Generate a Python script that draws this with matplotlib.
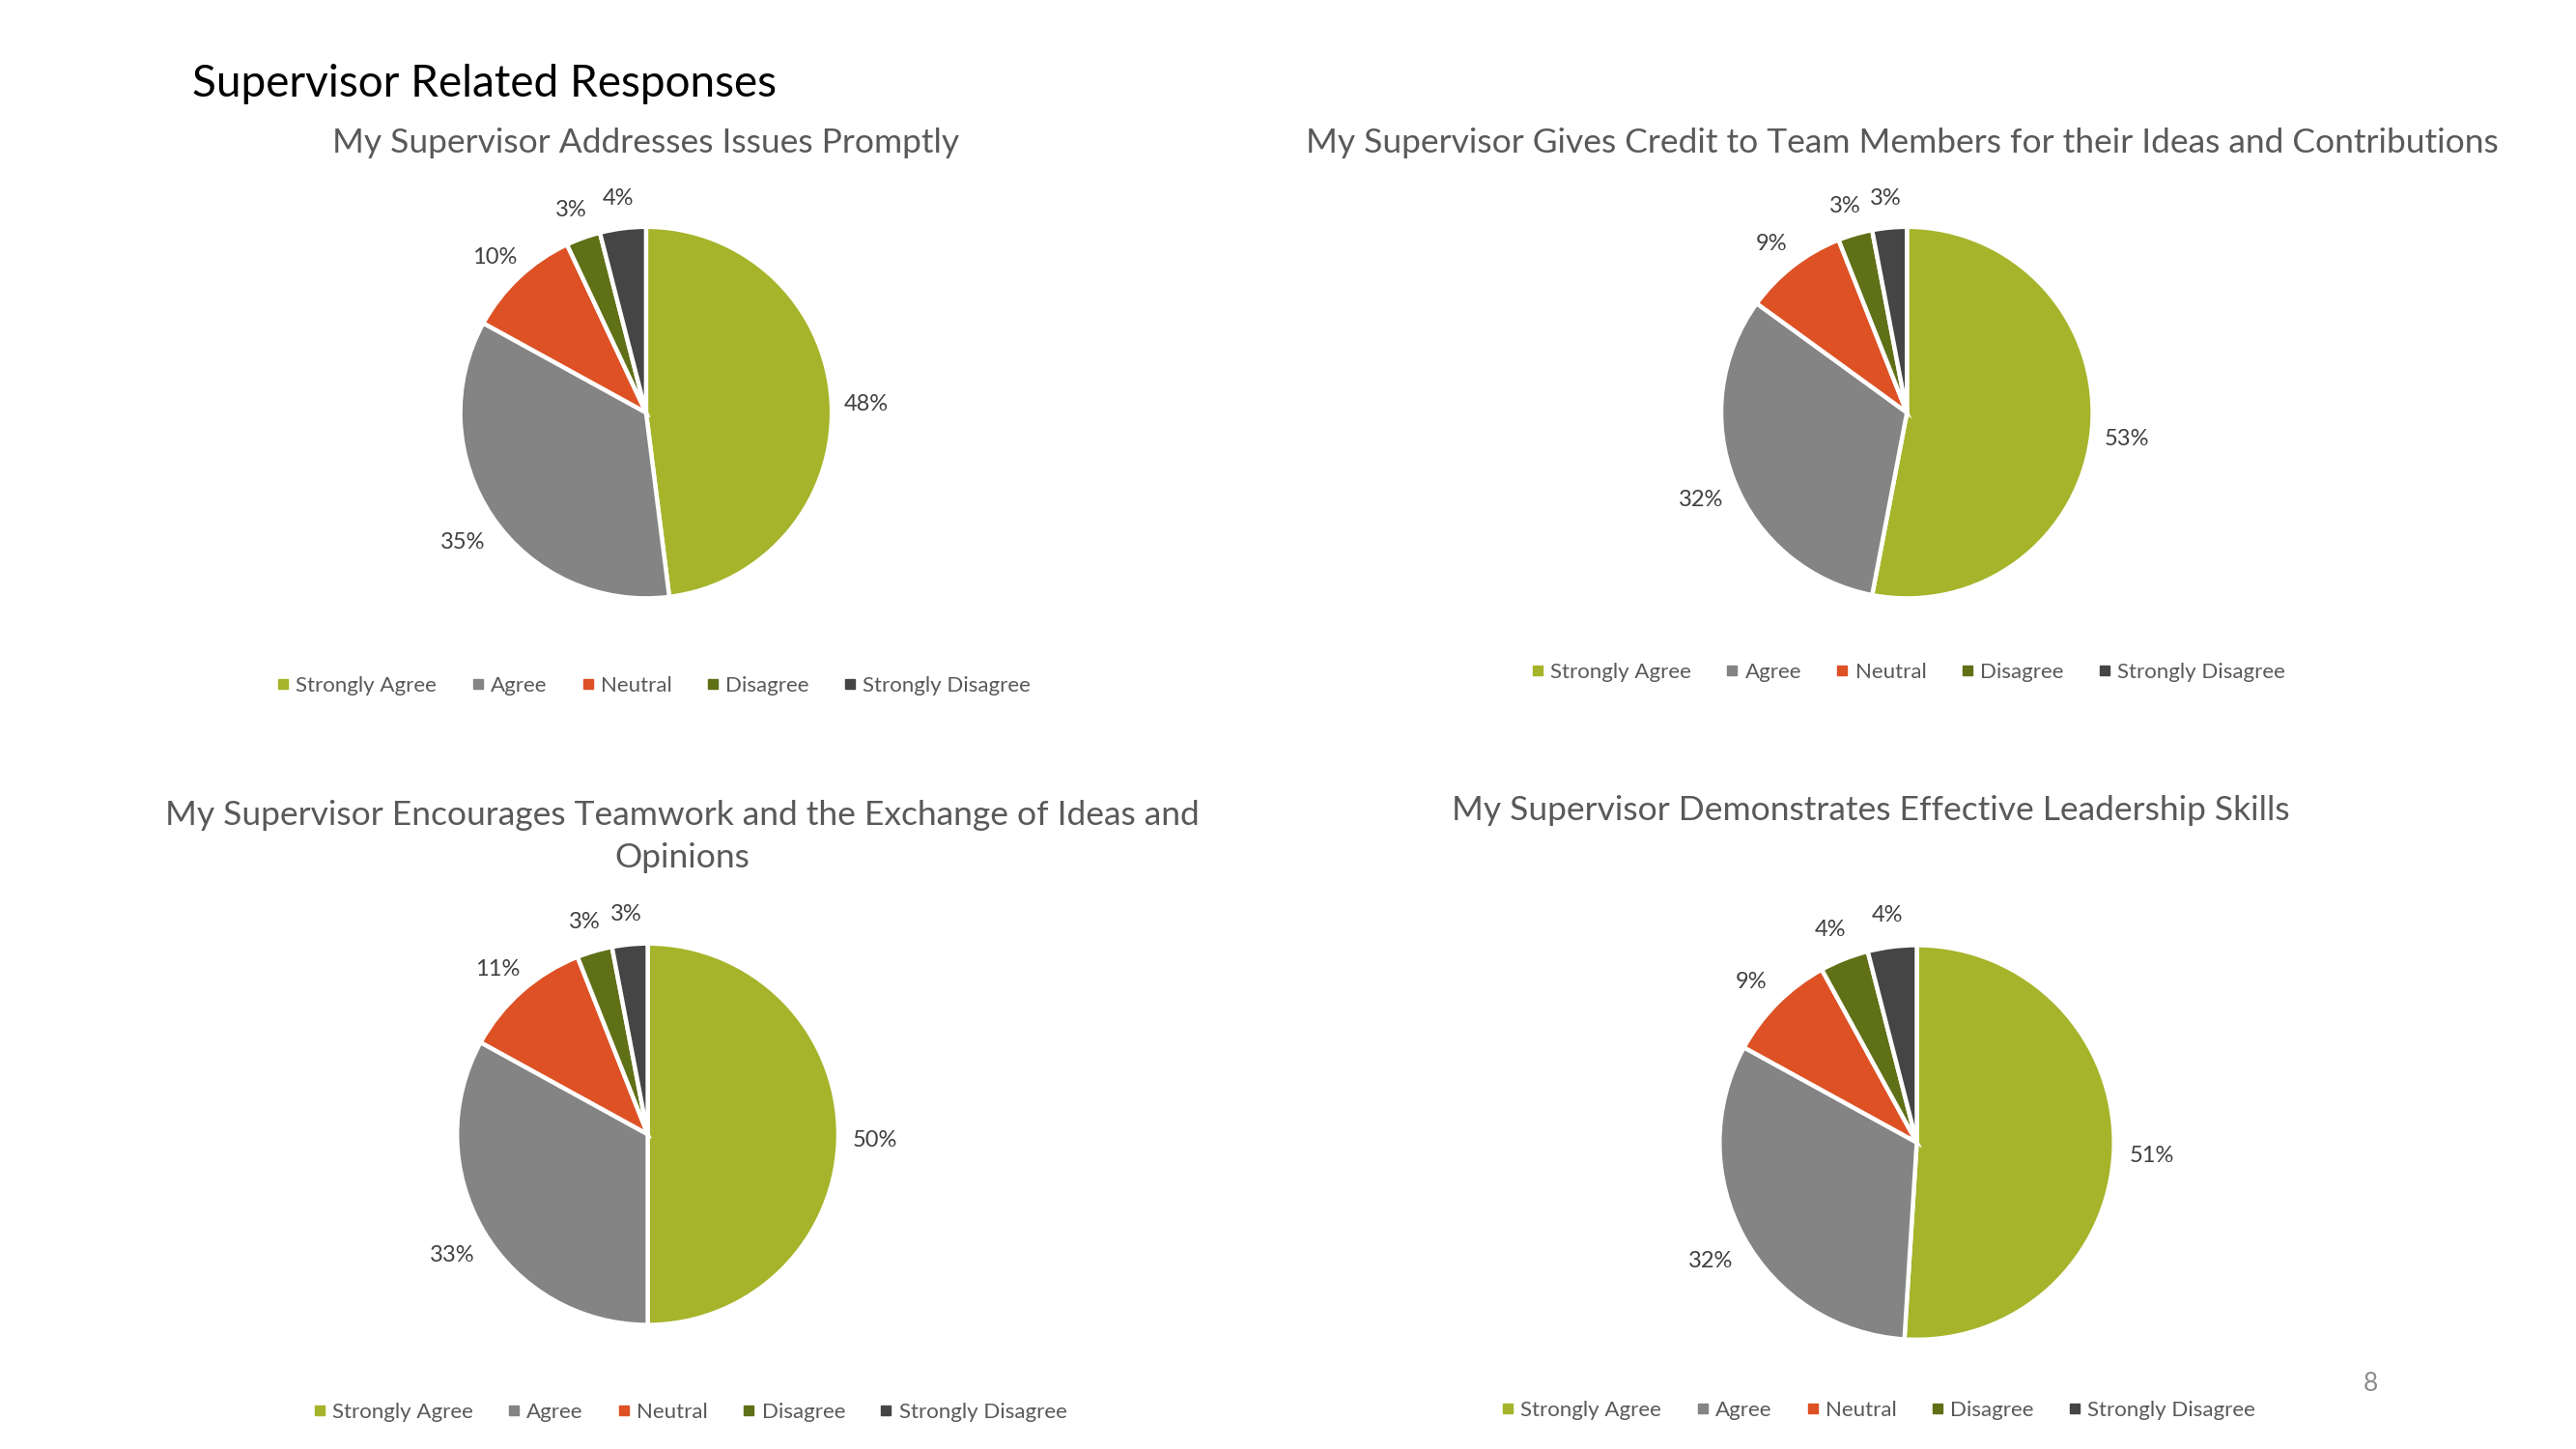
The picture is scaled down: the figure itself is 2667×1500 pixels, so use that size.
import matplotlib.pyplot as plt
from matplotlib.lines import Line2D

plt.rcParams['font.family'] = ['Lato', 'DejaVu Sans']

categories = ['Strongly Agree', 'Agree', 'Neutral', 'Disagree', 'Strongly Disagree']
colors = ['#A5B42A', '#848484', '#DD5125', '#5F7017', '#454545']

titles = [
    'My Supervisor Addresses Issues Promptly',
    'My Supervisor Gives Credit to Team Members for their Ideas and Contributions',
    'My Supervisor Encourages Teamwork and the Exchange of Ideas and\nOpinions',
    'My Supervisor Demonstrates Effective Leadership Skills',
]
addresses_issues = [48, 35, 10, 3, 4]
gives_credit = [53, 32, 9, 3, 3]
encourages_teamwork = [50, 33, 11, 3, 3]
leadership_skills = [51, 32, 9, 4, 4]
series = [addresses_issues, gives_credit, encourages_teamwork, leadership_skills]

# layout measured on a scaled view of the slide
W, H = 1567.0, 881.5
pie_boxes = [(393, 251, 113), (1160, 251, 113), (394, 690, 116), (1166, 695, 120)]
title_pos = [(393, 87), (1157, 87), (415, 509), (1138, 493)]
legend_pos = [(397, 417), (1160, 409), (419, 859), (1142, 858)]

fig = plt.figure(figsize=(26.67, 15), dpi=100)
fig.patch.set_facecolor('white')

fig.text(117 / W, 1 - 51 / H, 'Supervisor Related Responses', fontsize=33,
         color='black', ha='left', va='center')

handles = [Line2D([0], [0], marker='s', linestyle='none', markersize=7,
                  markerfacecolor=c, markeredgecolor=c) for c in colors]

for vals, title, (cx, cy, r), (tx, ty), (lx, ly) in zip(series, titles, pie_boxes,
                                                         title_pos, legend_pos):
    w = 2.5 * r
    ax = fig.add_axes([(cx - w / 2) / W, 1 - (cy + w / 2) / H, w / W, w / H])
    wedges, texts, autotexts = ax.pie(
        vals, colors=colors, startangle=90, counterclock=False,
        autopct=lambda p: f'{p:.0f}%', pctdistance=1.19,
        wedgeprops=dict(edgecolor='white', linewidth=3.2),
        textprops=dict(fontsize=17, color='#404040'))
    for t in autotexts:
        x, y = t.get_position()
        t.set_position((x, y - 0.03))
    ax.set_aspect('equal')

    fig.text(tx / W, 1 - ty / H, title, fontsize=25.5, color='#595959',
             ha='center', va='center', linespacing=1.45)

    fig.legend(handles, categories, loc='center', bbox_to_anchor=(lx / W, 1 - ly / H),
               ncol=5, frameon=False, fontsize=16, labelcolor='#595959',
               handletextpad=0.2, columnspacing=1.5, handlelength=0.8)

fig.text(1442 / W, 1 - 842 / H, '8', fontsize=19, color='#8C8C8C',
         ha='center', va='center')

fig.savefig('out.png', dpi=100, facecolor='white')
